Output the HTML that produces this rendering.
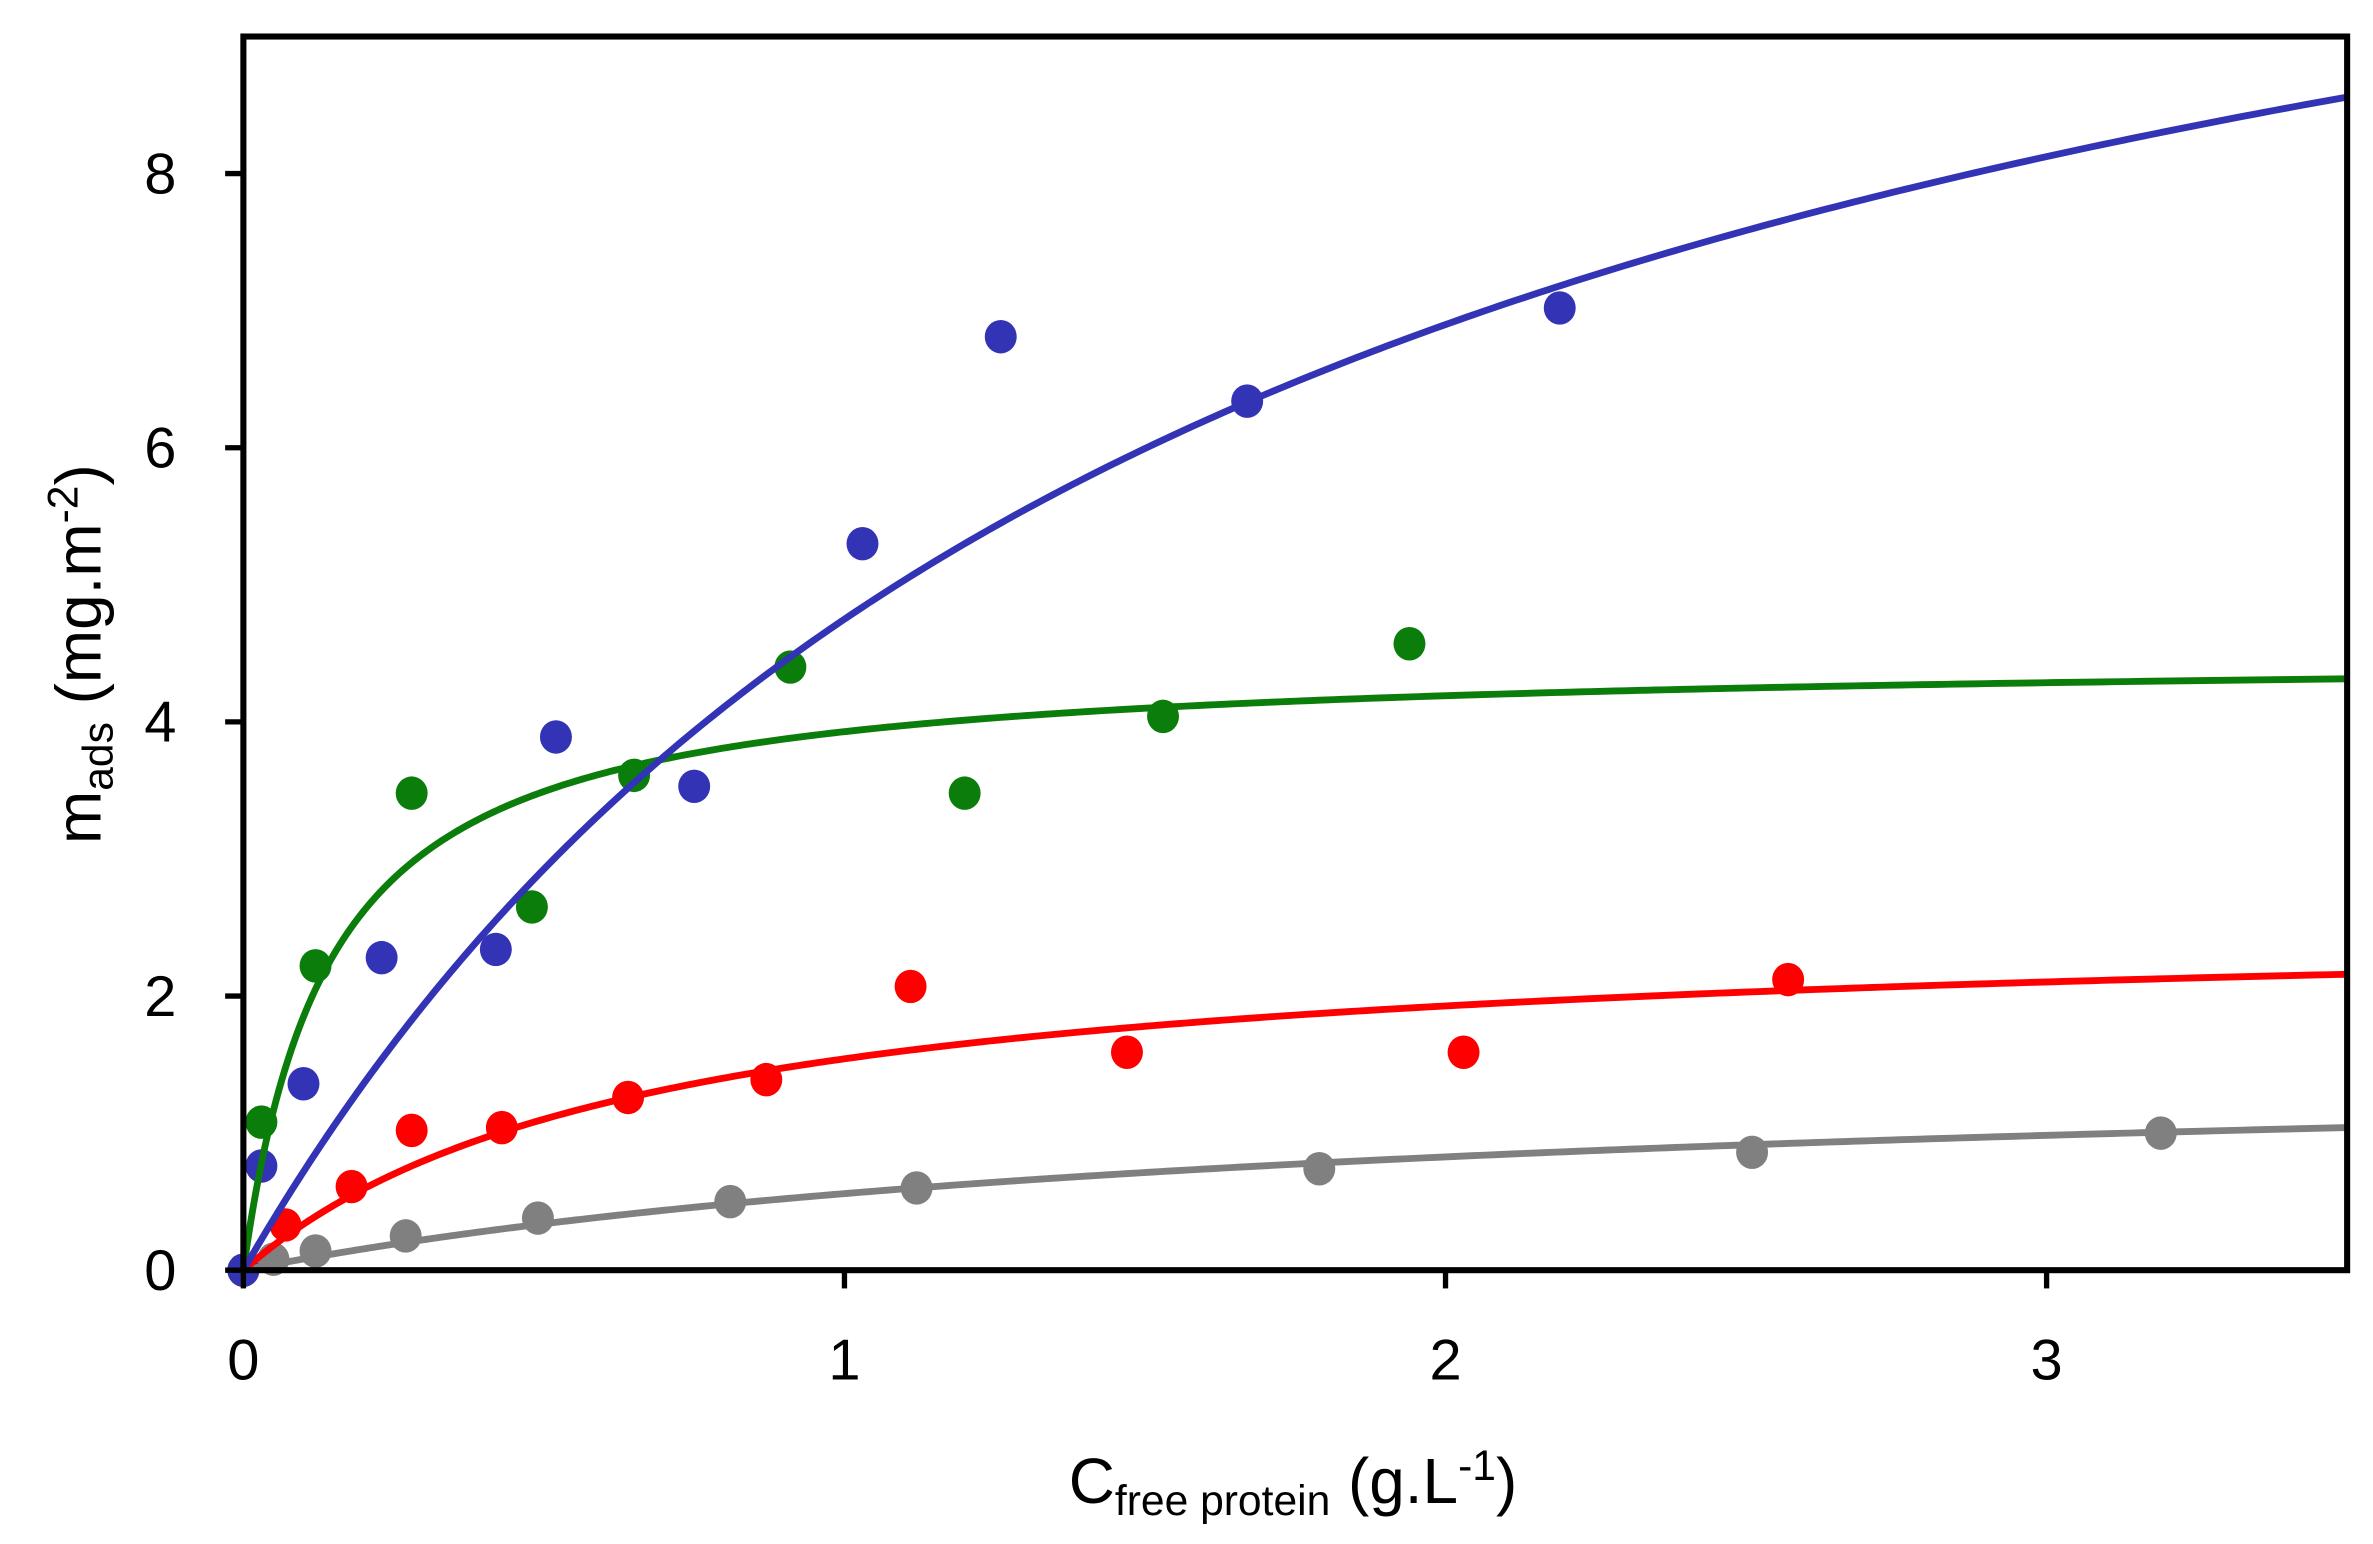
<!DOCTYPE html>
<html><head><meta charset="utf-8"><style>
html,body{margin:0;padding:0;background:#fff;}
svg{display:block;}
text{font-family:"Liberation Sans",sans-serif;fill:#000;}
</style></head>
<body>
<svg id="chart" width="2373" height="1544" viewBox="0 0 1560 1015" xmlns="http://www.w3.org/2000/svg">
<g id="marks"></g>
<g id="axes"></g>
<text transform="translate(66,430) rotate(-90)" text-anchor="middle" font-size="42">m<tspan font-size="28" dy="8">ads</tspan><tspan dy="-8"> (mg.m</tspan><tspan font-size="28" dy="-15">-2</tspan><tspan dy="15">)</tspan></text>
<text x="850" y="988" text-anchor="middle" font-size="42">C<tspan font-size="28" dy="8">free protein</tspan><tspan dy="-8"> (g.L</tspan><tspan font-size="28" dy="-15">-1</tspan><tspan dy="15">)</tspan></text>
</svg>
<script>
// Data
const xTicks = [0, 1, 2, 3];
const yTicks = [0, 2, 4, 6, 8];
const blueX = [0, 0.03, 0.10, 0.23, 0.42, 0.52, 0.75, 1.03, 1.26, 1.67, 2.19];
const blueY = [0, 0.76, 1.36, 2.28, 2.34, 3.89, 3.53, 5.30, 6.81, 6.34, 7.02];
const greenX = [0, 0.03, 0.12, 0.28, 0.48, 0.65, 0.91, 1.20, 1.53, 1.94];
const greenY = [0, 1.08, 2.22, 3.48, 2.65, 3.61, 4.40, 3.48, 4.04, 4.57];
const redX = [0, 0.07, 0.18, 0.28, 0.43, 0.64, 0.87, 1.11, 1.47, 2.03, 2.57];
const redY = [0, 0.33, 0.61, 1.02, 1.04, 1.26, 1.39, 2.07, 1.59, 1.59, 2.12];
const grayX = [0, 0.05, 0.12, 0.27, 0.49, 0.81, 1.12, 1.79, 2.51, 3.19];
const grayY = [0, 0.08, 0.14, 0.25, 0.38, 0.50, 0.60, 0.74, 0.86, 1.00];
// Langmuir fit parameters [qmax, K]
const blueFit = [12.6, 0.605];
const greenFit = [4.49, 7];
const redFit = [2.57, 1.5];
const grayFit = [1.588, 0.5425];

const NS = "http://www.w3.org/2000/svg";
const L = 160, T = 24, R = 1543, B = 835;
const xMax = 3.5, yMax = 9.0;
const sx = v => L + v / xMax * (R - L);
const sy = v => B - v / yMax * (B - T);
const marks = document.getElementById('marks');
const axes = document.getElementById('axes');
function mk(tag, attrs, parent) {
  const e = document.createElementNS(NS, tag);
  for (const k in attrs) e.setAttribute(k, attrs[k]);
  parent.appendChild(e);
  return e;
}
const series = [
  {name: 'gray', color: '#808080', xs: grayX, ys: grayY, fit: grayFit},
  {name: 'red', color: '#ff0000', xs: redX, ys: redY, fit: redFit},
  {name: 'green', color: '#0a7d0a', xs: greenX, ys: greenY, fit: greenFit},
  {name: 'blue', color: '#3333b5', xs: blueX, ys: blueY, fit: blueFit}
];
series.forEach(s => {
  const g = mk('g', {}, marks);
  
  
  s.xs.forEach((x, i) => {
    const c = mk('ellipse', {cx: sx(x), cy: sy(s.ys[i]), rx: 10.5, ry: 11, fill: s.color}, g);
    
    
  });
});
series.forEach(s => {
  let d = '';
  const n = 400;
  for (let i = 0; i <= n; i++) {
    const x = xMax * Math.pow(i / n, 2);
    const y = s.fit[0] * s.fit[1] * x / (1 + s.fit[1] * x);
    d += (i ? 'L' : 'M') + sx(x).toFixed(2) + ' ' + sy(y).toFixed(2);
  }
  const p = mk('path', {d: d, fill: 'none', stroke: s.color, 'stroke-width': 4.5}, marks);
  
  
});
const fr = mk('rect', {x: L, y: T, width: R - L, height: B - T, fill: 'none', stroke: '#000', 'stroke-width': 4}, axes);


xTicks.forEach(v => {
  const t = mk('line', {x1: sx(v), x2: sx(v), y1: B, y2: B + 12, stroke: '#000', 'stroke-width': 3.5}, axes);
  
  
  const tx = mk('text', {x: sx(v), y: B + 72, 'text-anchor': 'middle', 'font-size': 38}, axes);
  tx.textContent = v;
  
  
});
yTicks.forEach(v => {
  const t = mk('line', {x1: L - 12, x2: L, y1: sy(v), y2: sy(v), stroke: '#000', 'stroke-width': 3.5}, axes);
  
  
  const tx = mk('text', {x: 116, y: sy(v) + 13, 'text-anchor': 'end', 'font-size': 38}, axes);
  tx.textContent = v;
  
  
});
</script>
</body></html>
